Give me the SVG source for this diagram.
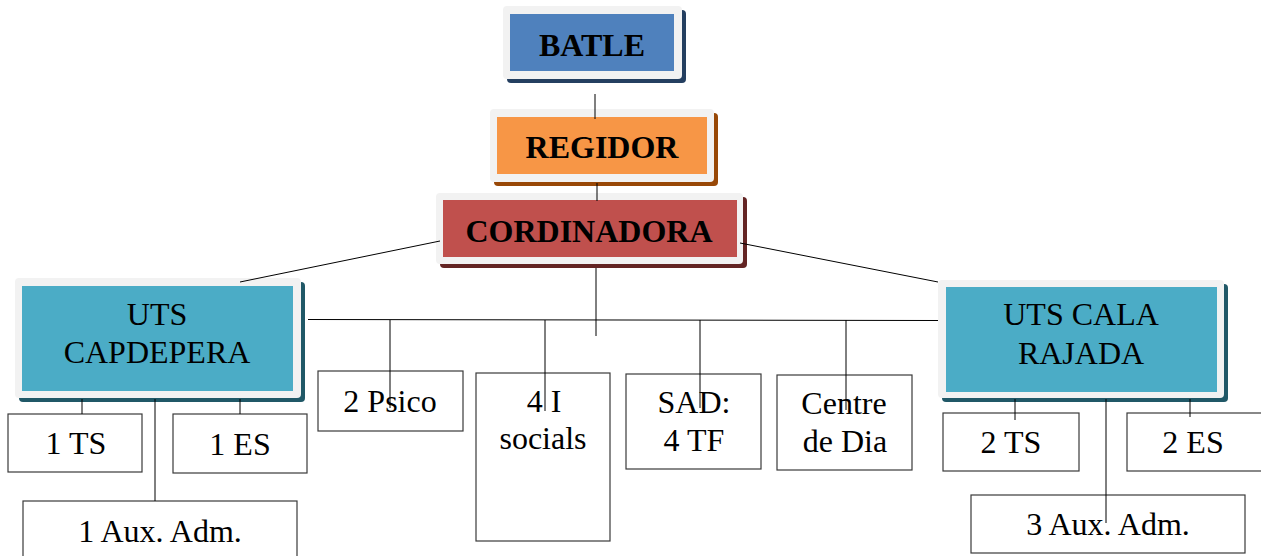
<svg xmlns="http://www.w3.org/2000/svg" width="1261" height="556" viewBox="0 0 1261 556">
<style>
.frame{fill:#f2f2f2}
.box{fill:#ffffff;stroke:#3a3a3a;stroke-width:1.2}
.t{font-family:'Liberation Serif','Times New Roman',Times,serif;font-size:32px;fill:#000;text-anchor:middle}
.b{font-weight:bold;font-size:32px}
.c{stroke:#000;stroke-width:1;fill:none}
</style>
<rect width="1261" height="556" fill="#ffffff"/>
<g id="batle">
<rect x="507" y="10" width="179" height="73" rx="4" fill="#243f60"/>
<rect class="frame" x="503" y="6" width="179" height="73" rx="4"/>
<rect x="510" y="14" width="164" height="57" fill="#4f81bd"/>
<text class="t b" x="592" y="56">BATLE</text>
</g>
<g id="regidor">
<rect x="494" y="113" width="224" height="73" rx="4" fill="#984807"/>
<rect class="frame" x="490" y="109" width="224" height="73" rx="4"/>
<rect x="497" y="117" width="210" height="57" fill="#f79646"/>
<text class="t b" x="602" y="158">REGIDOR</text>
</g>
<g id="cordinadora">
<rect x="440" y="197" width="307" height="71" rx="4" fill="#632423"/>
<rect class="frame" x="436" y="193" width="307" height="71" rx="4"/>
<rect x="443" y="200" width="294" height="57" fill="#c0504d"/>
<text class="t b" x="589" y="242">CORDINADORA</text>
</g>
<g id="uts-capdepera">
<rect x="19" y="282" width="286" height="120" rx="4" fill="#205867"/>
<rect class="frame" x="15" y="278" width="286" height="120" rx="4"/>
<rect x="22" y="286" width="271" height="105" fill="#4bacc6"/>
<text class="t" x="157" y="325">UTS</text>
<text class="t" x="157" y="363">CAPDEPERA</text>
</g>
<g id="uts-cala-rajada">
<rect x="942" y="284" width="286" height="118" rx="4" fill="#205867"/>
<rect class="frame" x="938" y="280" width="286" height="118" rx="4"/>
<rect x="946" y="287" width="271" height="105" fill="#4bacc6"/>
<text class="t" x="1081" y="325">UTS CALA</text>
<text class="t" x="1081" y="364">RAJADA</text>
</g>
<g id="ts1">
<rect class="box" x="8" y="414" width="134" height="58"/>
<text class="t" x="76" y="454">1 TS</text>
</g>
<g id="es1">
<rect class="box" x="173" y="414" width="134" height="59"/>
<text class="t" x="240" y="455">1 ES</text>
</g>
<g id="aux1">
<rect class="box" x="23" y="501" width="274" height="70"/>
<text class="t" x="160" y="542">1 Aux. Adm.</text>
</g>
<g id="psico">
<rect class="box" x="318" y="371" width="145" height="60"/>
<text class="t" x="390" y="412">2 Psico</text>
</g>
<g id="isocials">
<rect class="box" x="476" y="373" width="134" height="168"/>
<text class="t" x="544" y="412">4 I</text>
<text class="t" x="543" y="449">socials</text>
</g>
<g id="sad">
<rect class="box" x="626" y="374" width="135" height="95"/>
<text class="t" x="694" y="413">SAD:</text>
<text class="t" x="694" y="451">4 TF</text>
</g>
<g id="centre">
<rect class="box" x="777" y="375" width="135" height="95"/>
<text class="t" x="844" y="414">Centre</text>
<text class="t" x="845" y="452">de Dia</text>
</g>
<g id="ts2">
<rect class="box" x="943" y="413" width="136" height="58"/>
<text class="t" x="1011" y="453">2 TS</text>
</g>
<g id="es2">
<rect class="box" x="1127" y="413" width="140" height="58"/>
<text class="t" x="1193" y="453">2 ES</text>
</g>
<g id="aux3">
<rect class="box" x="971" y="495" width="274" height="58"/>
<text class="t" x="1108" y="535">3 Aux. Adm.</text>
</g>
<g id="connectors">
<line class="c" x1="595" y1="94" x2="595" y2="119"/>
<line class="c" x1="597" y1="183" x2="597" y2="201"/>
<line class="c" x1="596" y1="268" x2="596" y2="336"/>
<line class="c" x1="440" y1="241" x2="240" y2="282"/>
<line class="c" x1="740" y1="243" x2="938" y2="282"/>
<line class="c" x1="308" y1="319.5" x2="938" y2="320.5"/>
<line class="c" x1="390" y1="320" x2="390" y2="408"/>
<line class="c" x1="545" y1="320" x2="545" y2="411"/>
<line class="c" x1="700" y1="320" x2="700" y2="408"/>
<line class="c" x1="846" y1="320" x2="846" y2="410"/>
<line class="c" x1="82" y1="399" x2="82" y2="414"/>
<line class="c" x1="240" y1="399" x2="240" y2="414"/>
<line class="c" x1="155" y1="399" x2="155" y2="501"/>
<line class="c" x1="1015" y1="399" x2="1015" y2="420"/>
<line class="c" x1="1190" y1="399" x2="1190" y2="417"/>
<line class="c" x1="1106" y1="399" x2="1106" y2="523"/>
</g>
</svg>
